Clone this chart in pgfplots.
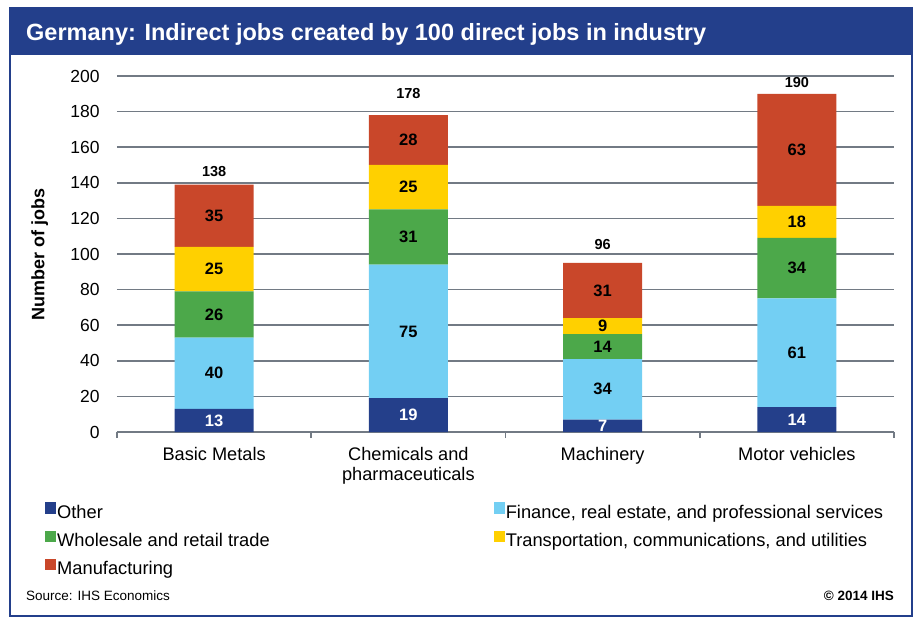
\documentclass[border=0pt]{standalone}
\usepackage{fontspec}
\setmainfont{Liberation Sans}
\usepackage{pgfplots}
\usepackage{pgfplotstable}
\pgfplotsset{compat=1.18}

\definecolor{ihsnavy}{HTML}{233F8B}
\definecolor{cother}{HTML}{243F8A}
\definecolor{cfin}{HTML}{73CFF3}
\definecolor{cwhol}{HTML}{4CA84A}
\definecolor{ctrans}{HTML}{FFD000}
\definecolor{cmanu}{HTML}{C9472A}
\definecolor{gridgray}{HTML}{727A84}

% indirect jobs per 100 direct jobs (0 Basic Metals, 1 Chemicals, 2 Machinery, 3 Motor vehicles)
\pgfplotstableread{
x other fin whol trans manu
0 13 40 26 25 35
1 19 75 31 25 28
2 7  34 14 9  31
3 14 61 34 18 63
}\jobs

% value labels, at the middle of each segment
\pgfplotstableread{
x y lab
0 6.5 13
1 9.5 19
2 3.5 7
3 7   14
}\otherlab
\pgfplotstableread{
x y lab
0 33    40
0 66    26
0 91.5  25
0 121.5 35
1 56.5  75
1 109.5 31
1 137.5 25
1 164   28
2 24    34
2 48    14
2 59.5  9
2 79.5  31
3 44.5  61
3 92    34
3 118   18
3 158.5 63
}\blacklab
% totals, y = baseline of the label
\pgfplotstableread{
x y lab
0 143.8 138
1 187.1 178
2 102.8 96
3 193.3 190
}\totallab

\begin{document}
\begin{tikzpicture}[x=1pt,y=1pt]
\path[use as bounding box] (0,0) rectangle (914,-617);
\fill[ihsnavy] (10,-8) rectangle (912,-55);
\draw[ihsnavy, line width=1.5pt] (10,-8) rectangle (912,-616);
\node[anchor=base west, inner sep=0pt, text=white, font=\bfseries\fontsize{23.5}{28}\selectfont]
  at (26,-40.5) {Germany: Indirect jobs created by 100 direct jobs in industry};

\begin{axis}[
  at={(117pt,-432pt)}, anchor=south west,
  scale only axis, width=777pt, height=356pt,
  xmin=-0.5, xmax=3.5, ymin=0, ymax=200,
  ybar stacked, bar width=79pt,
  axis x line*=bottom, axis y line*=left,
  x axis line style={-, gridgray, line width=2pt},
  y axis line style={draw=none},
  xtick={0,1,2,3},
  xticklabels={Basic Metals,{Chemicals and\\pharmaceuticals},Machinery,Motor vehicles},
  minor xtick={-0.5,0.5,1.5,2.5,3.5},
  ytick={0,20,...,200},
  tick align=outside,
  major tick length=0pt, minor tick length=6pt,
  minor tick style={gridgray, line width=1.5pt},
  ymajorgrids,
  major grid style={gridgray, line width=1.5pt},
  /pgf/number format/assume math mode=true,
  yticklabel style={font=\fontsize{17.5}{20}\selectfont, xshift=-13.8pt},
  xticklabel style={font=\fontsize{18.2}{20}\selectfont, align=center, anchor=north,
    inner sep=0pt, yshift=-15.5pt},
  ylabel={Number of jobs},
  ylabel style={font=\bfseries\fontsize{18}{21}\selectfont,
    at={(axis description cs:-0.084,0.5)}, anchor=south},
  legend style={
    at={(rel axis cs:-0.0927,-0.197)}, anchor=north west,
    draw=none, fill=none, inner sep=0pt,
    font=\fontsize{18.3}{21}\selectfont,
    nodes={inner xsep=1pt, inner ysep=0pt, text height=12.5pt, text depth=3.5pt},
    row sep=8.8pt,
    /tikz/column 2/.style={column sep=223pt},
  },
  legend columns=2,
  legend cell align=left,
  legend image code/.code={\fill[#1] (0pt,0pt) rectangle (11pt,11.5pt);},
]
\addplot[fill=cother, draw=none] table[x=x, y=other] {\jobs};
\addlegendentry{Other}
\addplot[fill=cfin, draw=none] table[x=x, y=fin] {\jobs};
\addlegendentry{Finance, real estate, and professional services}
\addplot[fill=cwhol, draw=none] table[x=x, y=whol] {\jobs};
\addlegendentry{Wholesale and retail trade}
\addplot[fill=ctrans, draw=none] table[x=x, y=trans] {\jobs};
\addlegendentry{Transportation, communications, and utilities}
\addplot[fill=cmanu, draw=none] table[x=x, y=manu] {\jobs};
\addlegendentry{Manufacturing}
\end{axis}

% value labels, on an overlay axis with the same geometry
\begin{axis}[
  at={(117pt,-432pt)}, anchor=south west,
  scale only axis, width=777pt, height=356pt,
  xmin=-0.5, xmax=3.5, ymin=0, ymax=200,
  hide axis, clip=false,
]
\addplot[only marks, mark=none, nodes near coords, point meta=explicit symbolic,
  every node near coord/.append style={anchor=center, text=white,
    font=\bfseries\fontsize{16.5}{19}\selectfont}]
  table[x=x, y=y, meta=lab] {\otherlab};
\addplot[only marks, mark=none, nodes near coords, point meta=explicit symbolic,
  every node near coord/.append style={anchor=center, text=black,
    font=\bfseries\fontsize{16.5}{19}\selectfont}]
  table[x=x, y=y, meta=lab] {\blacklab};
\addplot[only marks, mark=none, nodes near coords, point meta=explicit symbolic,
  every node near coord/.append style={anchor=base, inner sep=0pt, text=black,
    font=\bfseries\fontsize{14.5}{17}\selectfont}]
  table[x=x, y=y, meta=lab] {\totallab};
\end{axis}

\node[anchor=base west, inner sep=0pt, font=\fontsize{13.5}{15}\selectfont] at (26,-601) {Source: IHS Economics};
\node[anchor=base east, inner sep=0pt, font=\bfseries\fontsize{13.5}{15}\selectfont] at (894,-601) {\textcopyright\ 2014 IHS};
\end{tikzpicture}
\end{document}
